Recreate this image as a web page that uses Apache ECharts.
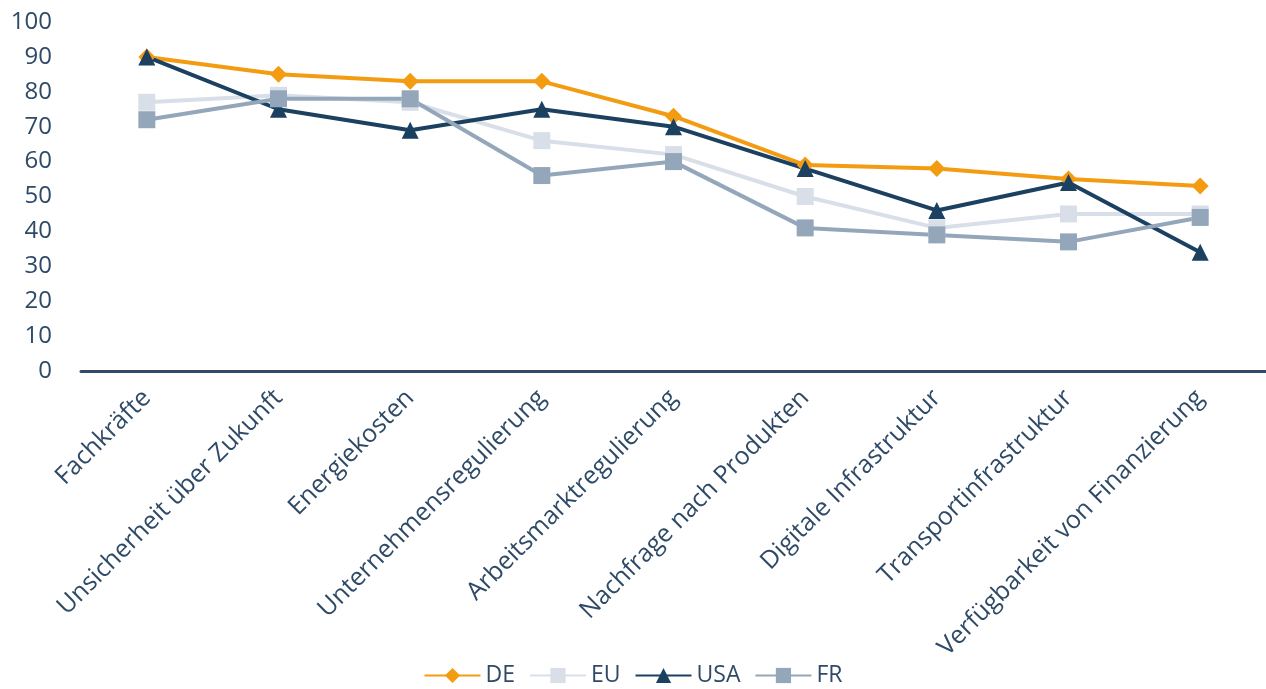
<!DOCTYPE html>
<html>
<head>
<meta charset="utf-8">
<script src="https://cdn.jsdelivr.net/npm/echarts@6/dist/echarts.min.js"></script>
<style>
  html, body { margin: 0; padding: 0; background: #fff; }
  #chart { width: 1266px; height: 689px; }
</style>
</head>
<body>
<div id="chart"></div>
<script>
const categories = [
  'Fachkräfte',
  'Unsicherheit über Zukunft',
  'Energiekosten',
  'Unternehmensregulierung',
  'Arbeitsmarktregulierung',
  'Nachfrage nach Produkten',
  'Digitale Infrastruktur',
  'Transportinfrastruktur',
  'Verfügbarkeit von Finanzierung'
]
const deValues = [90, 85, 83, 83, 73, 59, 58, 55, 53]
const euValues = [77, 79, 77, 66, 62, 50, 41, 45, 45]
const usaValues = [90, 75, 69, 75, 70, 58, 46, 54, 34]
const frValues = [72, 78, 78, 56, 60, 41, 39, 37, 44]

const textColor = '#2E4A66'
const font = '"Open Sans", sans-serif'

function lineSeries(name, data, color, symbol, size) {
  return {
    name: name,
    type: 'line',
    data: data,
    symbol: symbol,
    symbolSize: size,
    showSymbol: true,
    lineStyle: { color: color, width: 4 },
    itemStyle: { color: color },
    emphasis: { disabled: true }
  }
}

const myChart = echarts.init(document.getElementById('chart'))
const option = {
  backgroundColor: '#ffffff',
  animation: false,
  // Lage
  grid: {
    top: 22,
    left: 81,
    right: 0,
    bottom: 318
  },
  legend: {
    bottom: -3,
    left: 'center',
    itemWidth: 56,
    itemHeight: 19,
    itemGap: 14,
    textStyle: { color: textColor, fontSize: 23, fontFamily: font },
    data: ['DE', 'EU', 'USA', 'FR']
  },
  xAxis: {
    type: 'category',
    data: categories,
    boundaryGap: true,
    axisLine: { show: true, lineStyle: { color: '#2F4B66', width: 3 } },
    axisTick: { show: false },
    axisLabel: {
      rotate: 45,
      interval: 0,
      margin: 23,
      color: textColor,
      fontSize: 25,
      fontFamily: font
    }
  },
  yAxis: {
    type: 'value',
    min: 0,
    max: 100,
    interval: 10,
    axisLine: { show: false },
    axisTick: { show: false },
    splitLine: { show: false },
    axisLabel: {
      margin: 29,
      color: textColor,
      fontSize: 24,
      fontFamily: font
    }
  },
  series: [
    lineSeries('DE', deValues, '#F39C12', 'diamond', 17),
    lineSeries('EU', euValues, '#D9DFE8', 'rect', 17),
    lineSeries('USA', usaValues, '#1B4060', 'triangle', 17),
    lineSeries('FR', frValues, '#94A7BA', 'rect', 17)
  ]
}
myChart.setOption(option)
</script>
</body>
</html>
